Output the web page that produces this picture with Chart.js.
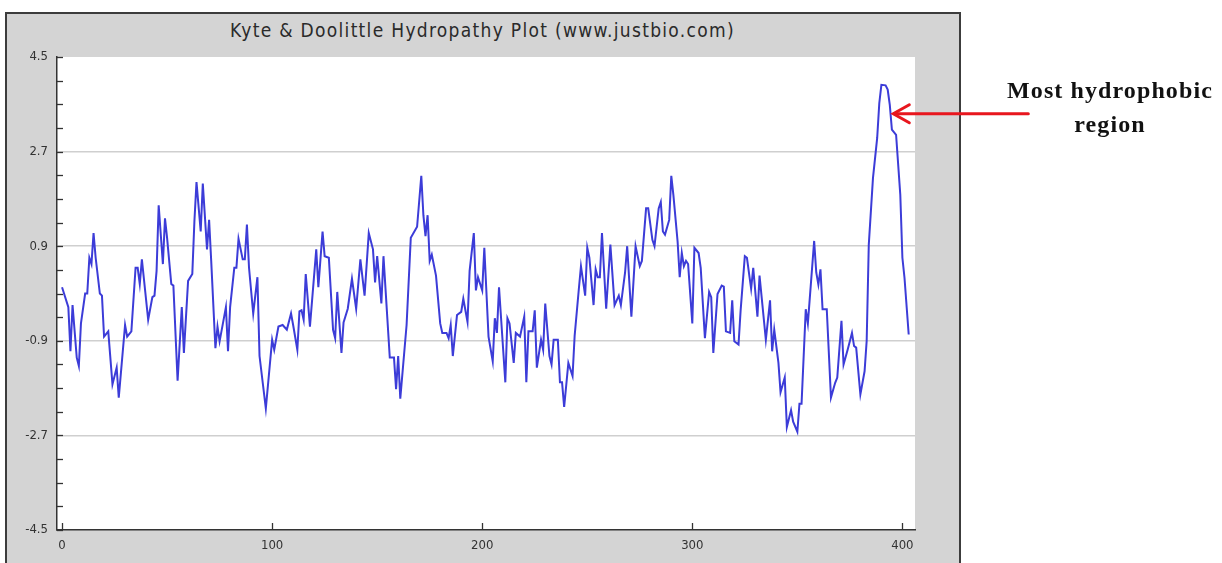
<!DOCTYPE html>
<html>
<head>
<meta charset="utf-8">
<script src="https://cdn.jsdelivr.net/npm/chart.js@4/dist/chart.umd.min.js"></script>
<style>
  html, body { margin:0; padding:0; background:#ffffff; width:1222px; height:563px; overflow:hidden; }
  #frame { position:absolute; left:5px; top:12px; width:952px; height:600px; background:#d4d4d4; border:2px solid #3c3c3c; }
  #title { position:absolute; left:5px; width:955px; top:19px; text-align:center; font-family:"DejaVu Sans Condensed","DejaVu Sans",sans-serif; font-size:19px; letter-spacing:1.3px; color:#2a2a2a; }
  #wrap { position:absolute; left:0; top:0; width:1222px; height:563px; }
  .note { position:absolute; font-family:"Liberation Serif","Times New Roman",serif; font-weight:bold; font-size:24px; color:#111; text-align:center; width:260px; letter-spacing:1.1px; }
</style>
</head>
<body>
<div id="frame"></div>
<div id="title">Kyte &amp; Doolittle Hydropathy Plot (www.justbio.com)</div>
<div id="wrap"><canvas id="c" width="1222" height="563"></canvas></div>
<div class="note" style="left:980px; top:77px;">Most hydrophobic</div>
<div class="note" style="left:980px; top:111px;">region</div>
<script>
// residue positions (vertices of the plotted profile) and hydropathy scores
const residues = [0,3,4,5,7,8,9,11,12,13,14,15,16,18,19,20,22,24,26,27,30,31,33,35,36,37,38,41,43,44,
45,46,48,49,50,52,53,55,57,58,60,62,63,64,66,67,69,70,71,73,74,75,78,79,80,82,83,84,86,87,88,89,
91,93,94,97,100,101,103,105,107,109,110,112,113,114,115,116,118,121,122,124,125,127,129,130,131,133,134,
136,138,140,142,144,146,148,149,150,152,153,156,158,159,160,161,164,166,169,171,172,173,174,175,176,178,
180,181,183,184,185,186,188,190,191,193,194,196,197,198,200,201,203,205,206,207,208,211,212,213,215,216,218,220,221,222,224,
225,226,228,229,230,232,233,234,236,237,238,239,241,243,244,246,247,249,250,251,253,254,255,256,257,259,261,263,265,266,268,269,
271,273,275,276,278,279,281,282,284,285,286,287,289,290,291,293,294,295,296,297,298,300,301,303,304,306,308,309,310,312,314,315,
316,318,319,320,322,323,325,326,328,329,331,332,335,337,338,339,341,342,344,345,347,348,350,351,352,354,355,358,
359,360,361,362,364,366,368,369,371,372,374,376,377,378,380,382,383,384,386,388,389,390,392,393,394,395,397,399,400,401,403];
const scores = [0.12,-0.26,-1.10,-0.22,-1.22,-1.38,-0.57,0.00,0.00,0.68,0.56,1.15,0.68,0.00,-0.04,-0.82,-0.72,-1.73,-1.41,-1.98,-0.60,-0.82,-0.72,0.49,0.49,0.18,0.65,-0.50,-0.07,-0.04,
0.43,1.68,0.56,1.43,1.06,0.18,0.15,-1.66,-0.26,-1.13,0.24,0.37,1.37,2.12,1.18,2.09,0.84,1.40,0.62,-1.04,-0.63,-0.91,-0.26,-1.10,-0.26,0.49,0.49,1.04,0.65,0.65,1.31,0.49,
-0.38,0.31,-1.19,-2.19,-0.88,-1.07,-0.63,-0.60,-0.69,-0.38,-0.60,-1.07,-0.34,-0.32,-0.50,0.37,-0.63,0.84,0.12,1.18,0.71,0.68,-0.69,-0.85,0.03,-1.13,-0.55,
-0.29,0.28,-0.29,0.65,-0.04,1.15,0.84,0.21,0.71,-0.19,0.71,-1.22,-1.22,-1.82,-1.19,-2.00,-0.60,1.06,1.27,2.24,1.49,1.09,1.49,0.62,0.74,0.34,
-0.57,-0.75,-0.75,-0.85,-0.60,-1.19,-0.41,-0.35,-0.10,-0.54,0.43,1.15,0.06,0.31,0.06,0.87,-0.82,-1.29,-0.47,-0.75,0.12,-1.69,-0.47,-0.57,-1.32,-0.75,-0.82,-0.44,-1.69,-0.72,-0.72,
-0.32,-1.41,-0.88,-1.07,-0.19,-1.19,-1.35,-0.88,-0.88,-1.69,-1.69,-2.16,-1.32,-1.57,-0.80,0.09,0.52,-0.04,0.87,0.68,-0.22,0.46,0.31,0.31,1.15,-0.29,0.93,-0.22,-0.04,-0.22,0.40,0.90,
-0.44,0.90,0.52,0.62,1.62,1.62,1.02,0.90,1.62,1.74,1.18,1.12,1.40,2.24,1.87,0.99,0.31,0.77,0.52,0.62,0.56,-0.57,0.87,0.77,0.49,-0.85,0.03,-0.07,-1.13,-0.01,0.15,0.13,
-0.72,-0.75,-0.13,-0.91,-0.97,-0.32,0.71,0.68,0.09,0.49,-0.44,0.34,-0.88,-0.13,-1.10,-0.69,-1.32,-1.88,-1.60,-2.54,-2.22,-2.44,-2.63,-2.10,-2.10,-0.30,-0.57,1.00,
0.40,0.17,0.46,-0.30,-0.30,-1.98,-1.70,-1.60,-0.52,-1.35,-1.06,-0.75,-1.00,-1.03,-1.92,-1.48,-0.90,0.93,2.20,2.96,3.62,3.97,3.96,3.88,3.59,3.12,3.02,1.88,0.68,0.30,-0.78];

const xTickValues = [0, 100, 200, 300, 400];
const yTickLabels = [-4.5, -2.7, -0.9, 0.9, 2.7, 4.5];
const yGridValues = [-2.7, -0.9, 0.9, 2.7];
const yMinorStep = 0.45;
const arrowTarget = { residue: 395.2, score: 3.42 };

const points = residues.map((r, i) => ({ x: r, y: scores[i] }));

function near(v, list) { return list.some(t => Math.abs(t - v) < 1e-6); }

const decor = {
  id: 'decor',
  beforeDraw(chart) {
    const a = chart.chartArea, c = chart.ctx;
    c.save();
    c.fillStyle = '#ffffff';
    c.fillRect(a.left, a.top, a.right - a.left, a.bottom - a.top);
    c.restore();
  },
  afterDraw(chart) {
    const a = chart.chartArea, c = chart.ctx;
    const xs = chart.scales.x, ys = chart.scales.y;
    c.save();
    c.strokeStyle = '#333333';
    c.lineWidth = 1.3;
    ys.ticks.forEach(t => {
      const py = Math.round(ys.getPixelForValue(t.value)) + 0.5;
      c.beginPath(); c.moveTo(a.left, py); c.lineTo(a.left + 6, py); c.stroke();
    });
    xs.ticks.forEach(t => {
      const px = Math.round(xs.getPixelForValue(t.value)) + 0.5;
      c.beginPath(); c.moveTo(px, a.bottom); c.lineTo(px, a.bottom - 7); c.stroke();
    });
    // annotation arrow
    const tx = xs.getPixelForValue(arrowTarget.residue);
    const ty = ys.getPixelForValue(arrowTarget.score);
    c.strokeStyle = '#e8161e';
    c.lineWidth = 3;
    c.lineCap = 'round';
    c.beginPath(); c.moveTo(tx + 136, ty); c.lineTo(tx + 2, ty); c.stroke();
    c.beginPath(); c.moveTo(tx + 17, ty - 9); c.lineTo(tx + 1, ty); c.lineTo(tx + 17, ty + 9); c.stroke();
    c.restore();
  }
};

const tickFont = { family: '"DejaVu Sans Condensed","DejaVu Sans",sans-serif', size: 13 };

new Chart(document.getElementById('c'), {
  type: 'line',
  data: {
    datasets: [{
      data: points,
      borderColor: '#3c3cd8',
      borderWidth: 2,
      pointRadius: 0,
      tension: 0,
      fill: false
    }]
  },
  options: {
    responsive: false,
    animation: false,
    events: [],
    layout: { padding: { left: 5, right: 307, top: 57, bottom: 0 } },
    plugins: { legend: { display: false }, title: { display: false }, tooltip: { enabled: false } },
    scales: {
      x: {
        type: 'linear',
        min: -2.4,
        max: 406,
        afterBuildTicks: s => { s.ticks = xTickValues.map(v => ({ value: v })); },
        afterFit: s => { s.height = 33; },
        grid: { display: false, drawTicks: false },
        border: { display: true, color: '#333333', width: 1.5 },
        ticks: { font: tickFont, color: '#333333', padding: 8, maxRotation: 0, autoSkip: false,
          callback: v => String(v) }
      },
      y: {
        type: 'linear',
        min: -4.5,
        max: 4.5,
        afterBuildTicks: s => {
          const t = [];
          for (let k = 0; k <= 20; k++) t.push({ value: Math.round((-4.5 + k * yMinorStep) * 100) / 100 });
          s.ticks = t;
        },
        afterFit: s => { s.width = 52; },
        grid: {
          drawTicks: false,
          lineWidth: 1.5,
          color: ctx => (ctx.tick && near(ctx.tick.value, yGridValues)) ? '#cfcfcf' : 'rgba(0,0,0,0)'
        },
        border: { display: true, color: '#333333', width: 1.5 },
        ticks: { font: tickFont, color: '#333333', padding: 9, autoSkip: false,
          callback: v => near(v, yTickLabels) ? v.toFixed(1) : '' }
      }
    }
  },
  plugins: [decor]
});
</script>
</body>
</html>
